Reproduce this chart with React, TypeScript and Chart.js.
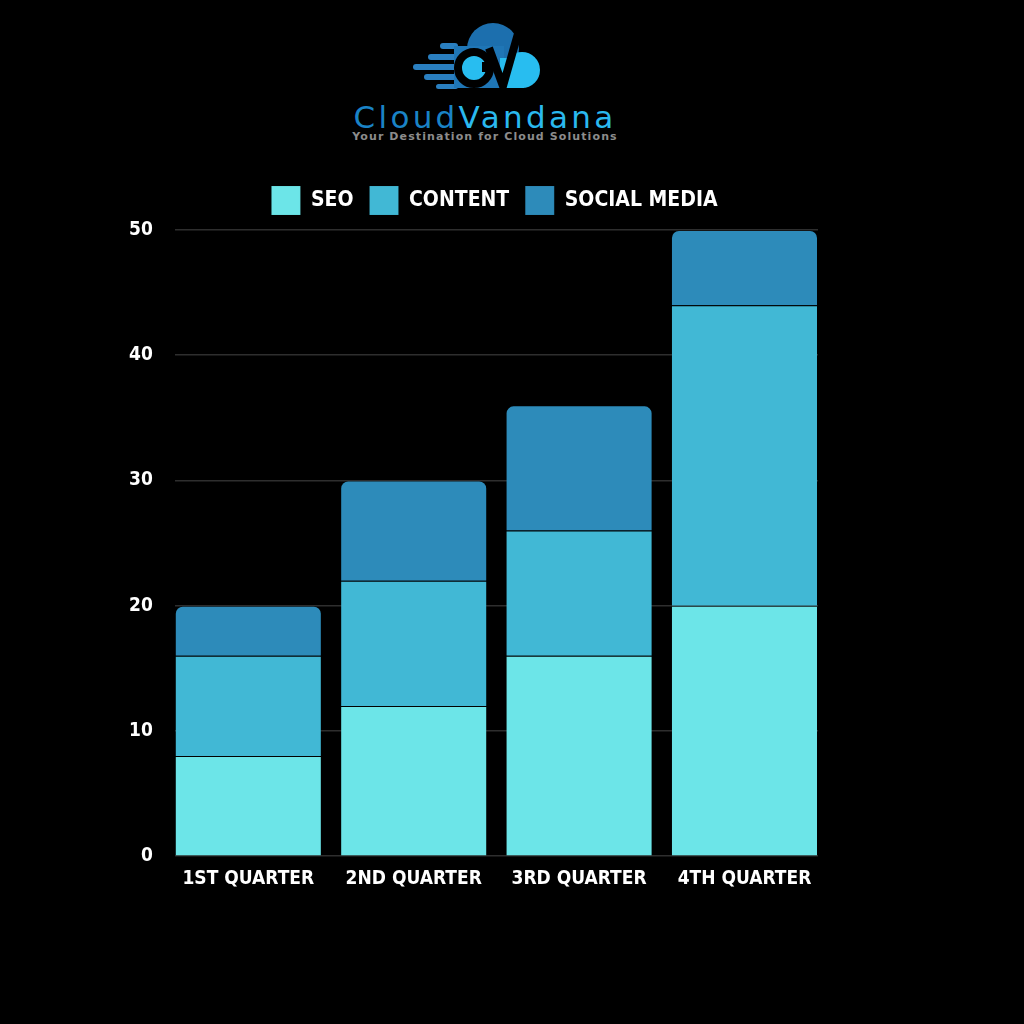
import React, { useEffect, useRef } from "react";
import { Chart, registerables } from "chart.js";

Chart.register(...registerables);

const categories = ["1ST QUARTER", "2ND QUARTER", "3RD QUARTER", "4TH QUARTER"];
const seoValues = [8, 12, 16, 20];
const contentValues = [8, 10, 10, 24];
const socialValues = [4, 8, 10, 6];
const seriesNames = ["SEO", "CONTENT", "SOCIAL MEDIA"];
const seriesColors = ["#6CE5E8", "#41B8D5", "#2D8BBA"];

const FONT = "'DejaVu Sans Condensed', 'Liberation Sans Narrow', sans-serif";

function Logo() {
  return (
    <div style={{ position: "absolute", left: 0, top: 0, width: 1024, height: 160 }}>
      <svg width={1024} height={100} style={{ position: "absolute", left: 0, top: 0 }}>
        {/* speed lines */}
        <g fill="#2a7fc0">
          <rect x={440} y={43} width={18} height={6} rx={3} />
          <rect x={428} y={54} width={30} height={6} rx={3} />
          <rect x={413} y={64} width={45} height={6} rx={3} />
          <rect x={424} y={74} width={34} height={6} rx={3} />
          <rect x={436} y={84} width={22} height={5} rx={2.5} />
        </g>
        {/* dark body */}
        <circle cx={493} cy={49} r={26} fill="#1c6fae" />
        <rect x={454} y={46} width={50} height={42} fill="#1f76b6" />
        {/* right lobe light */}
        <circle cx={522} cy={70} r={18} fill="#28bdf0" />
        <rect x={500} y={58} width={24} height={30} fill="#28bdf0" />
        {/* C ring */}
        <circle cx={474} cy={68} r={16} fill="#28bdf0" stroke="#000" strokeWidth={8} />
        <rect x={482} y={62} width={10} height={10} fill="#000" />
        {/* V */}
        <polyline points="489,48 503,86 519,30" fill="none" stroke="#000" strokeWidth={8} strokeLinejoin="miter" />
      </svg>
      <div
        style={{
          position: "absolute",
          left: 0,
          width: 970,
          top: 101,
          textAlign: "center",
          fontFamily: "'DejaVu Sans', sans-serif",
          fontSize: 31,
          lineHeight: "32px",
          letterSpacing: 3.3,
        }}
      >
        <span style={{ color: "#1a83c6" }}>Cloud</span>
        <span style={{ color: "#2ab9ef" }}>Vandana</span>
      </div>
      <div
        style={{
          position: "absolute",
          left: 0,
          width: 970,
          top: 130,
          textAlign: "center",
          fontFamily: "'DejaVu Sans', sans-serif",
          fontWeight: "bold",
          fontSize: 11,
          color: "#8c8c8c",
          letterSpacing: 1.1,
        }}
      >
        Your Destination for Cloud Solutions
      </div>
    </div>
  );
}

const legendSpacing = {
  id: "legendSpacing",
  beforeInit(chart: any) {
    const orig = chart.legend.fit;
    chart.legend.fit = function () {
      orig.bind(this)();
      this.height += 5;
    };
  },
  afterLayout(chart: any) {
    const lg = chart.legend;
    if (lg) {
      lg.left += 32;
      lg.right += 32;
    }
  },
};

export default function App() {
  const canvasRef = useRef<HTMLCanvasElement | null>(null);

  useEffect(() => {
    document.body.style.margin = "0";
    document.body.style.background = "#000";
    if (!canvasRef.current) return;
    const values = [seoValues, contentValues, socialValues];
    const half = 0.4445;
    const chart = new Chart(canvasRef.current, {
      type: "bar",
      plugins: [legendSpacing],
      data: {
        datasets: values.map((v, i) => ({
          label: seriesNames[i],
          data: v.map((y, idx) => ({ x: idx, y })),
          backgroundColor: seriesColors[i],
          borderColor: "rgba(0,0,0,0.08)",
          borderWidth: 1,
          borderSkipped: "bottom",
          borderRadius:
            i === 2 ? { topLeft: 8, topRight: 8, bottomLeft: 0, bottomRight: 0 } : 0,
          categoryPercentage: 1,
          barPercentage: half * 2,
        })),
      },
      options: {
        animation: false,
        responsive: false,
        maintainAspectRatio: false,
        layout: { padding: { left: 107, right: 206, top: 0, bottom: 17 } },
        plugins: {
          legend: {
            position: "top",
            labels: {
              color: "#ffffff",
              font: { family: FONT, size: 21, weight: "bold" },
              boxWidth: 29,
              boxHeight: 29,
              padding: 16,
            },
          },
          tooltip: { enabled: false },
        },
        scales: {
          x: {
            type: "linear",
            stacked: true,
            min: -half,
            max: categories.length - 1 + half,
            offset: false,
            grid: { display: false },
            border: { display: false },
            afterBuildTicks: (axis: any) => {
              axis.ticks = categories.map((_, idx) => ({ value: idx }));
            },
            ticks: {
              color: "#ffffff",
              font: { family: FONT, size: 19, weight: "bold" },
              padding: 3,
              maxRotation: 0,
              minRotation: 0,
              autoSkip: false,
              callback: (val: any) => categories[val as number] ?? "",
            },
          },
          y: {
            stacked: true,
            min: 0,
            max: 50,
            grid: { color: "#2e2e2e", lineWidth: 1.5, drawTicks: false },
            border: { display: false },
            ticks: {
              stepSize: 10,
              color: "#ffffff",
              font: { family: FONT, size: 19, weight: "bold" },
              padding: 22,
            },
          },
        },
      },
    });
    return () => chart.destroy();
  }, []);

  return (
    <div style={{ position: "relative", width: 1024, height: 1024, background: "#000", overflow: "hidden" }}>
      <Logo />
      <canvas
        ref={canvasRef}
        width={1024}
        height={740}
        style={{ position: "absolute", left: 0, top: 170, width: 1024, height: 740 }}
      />
    </div>
  );
}
